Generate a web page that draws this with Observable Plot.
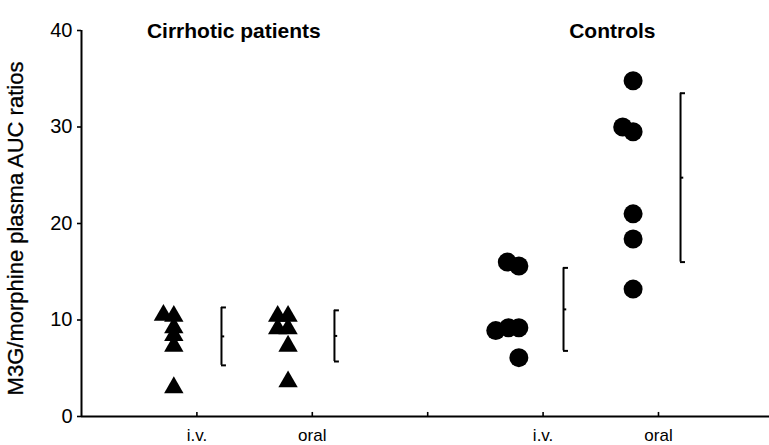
<!DOCTYPE html>
<html>
<head>
<meta charset="utf-8">
<script src="https://cdn.jsdelivr.net/npm/d3@7"></script>
<script src="https://cdn.jsdelivr.net/npm/@observablehq/plot@0.6"></script>
<style>
  body { margin: 0; background: #fff; }
  svg { display: block; }
</style>
</head>
<body>
<div id="chart"></div>
<script>
// ---- data ----
const groupNames = ["Cirrhotic i.v.", "Cirrhotic oral", "Controls i.v.", "Controls oral"];
const groupTickX = [1, 2, 4, 5];
const tickLabels = ["i.v.", "oral", "i.v.", "oral"];
const panelTitles = ["Cirrhotic patients", "Controls"];

const cirrIV   = [10.5, 10.4, 9.2, 8.4, 7.3, 3.0];
const cirrOral = [10.4, 10.4, 9.1, 9.1, 7.3, 3.6];
const ctrlIV   = [16.0, 15.6, 8.9, 9.2, 9.2, 6.1];
const ctrlOral = [34.8, 30.0, 29.5, 21.0, 18.4, 13.2];

const groupMean = [8.3, 8.35, 11.1, 24.75];
const groupSD   = [3.0, 2.65, 4.3, 8.75];

// ---- layout (horizontal scatter offsets, in x units) ----
const cirrIVJitter   = [-0.29, -0.20, -0.20, -0.20, -0.20, -0.20];
const cirrOralJitter = [-0.30, -0.21, -0.30, -0.21, -0.21, -0.21];
const ctrlIVJitter   = [-0.31, -0.21, -0.41, -0.30, -0.21, -0.21];
const ctrlOralJitter = [-0.22, -0.31, -0.22, -0.22, -0.22, -0.22];
const bracketOffset  = [0.213, 0.192, 0.177, 0.191];
const titleX = [1.32, 4.60];

const font = "'Liberation Sans', Arial, Helvetica, sans-serif";

function pts(vals, jit, gx) {
  return vals.map((v, i) => ({x: gx + jit[i], y: v}));
}
const triangles = [
  ...pts(cirrIV, cirrIVJitter, groupTickX[0]),
  ...pts(cirrOral, cirrOralJitter, groupTickX[1])
];
const circles = [
  ...pts(ctrlIV, ctrlIVJitter, groupTickX[2]),
  ...pts(ctrlOral, ctrlOralJitter, groupTickX[3])
];
const brackets = groupNames.map((g, i) => ({
  x: groupTickX[i] + bracketOffset[i],
  lo: groupMean[i] - groupSD[i],
  hi: groupMean[i] + groupSD[i],
  mean: groupMean[i]
}));
const serif = 0.043, midSerif = 0.028;
const serifs = brackets.flatMap(b => [
  {x1: b.x, x2: b.x + serif, y: b.lo},
  {x1: b.x, x2: b.x + serif, y: b.hi},
  {x1: b.x, x2: b.x + midSerif, y: b.mean}
]);

const chart = Plot.plot({
  width: 769,
  height: 445,
  marginLeft: 81,
  marginRight: 0,
  marginTop: 30,
  marginBottom: 29,
  style: {fontFamily: font, background: "#fff", color: "#000"},
  x: {domain: [0, 5.962]},
  y: {domain: [0, 40]},
  marks: [
    // axes
    Plot.axisY({ticks: [0, 10, 20, 30, 40], tickSize: 4, tickPadding: 5, fontSize: 20, label: null, strokeWidth: 1.6}),
    Plot.axisX({ticks: groupTickX, tickSize: 0, tickPadding: 12, fontSize: 17, label: null,
      tickFormat: d => tickLabels[groupTickX.indexOf(d)]}),
    Plot.ruleX([1, 2, 3, 4, 5], {y1: 0, y2: 0.42, stroke: "#000", strokeWidth: 1.6}),
    Plot.ruleX([0], {stroke: "#000", strokeWidth: 2}),
    Plot.ruleY([0], {stroke: "#000", strokeWidth: 2}),
    // y label
    Plot.text(["M3G/morphine plasma AUC ratios"], {frameAnchor: "left", textAnchor: "middle", rotate: -90, dx: -66, dy: 5,
      fontSize: 22, fill: "#000", stroke: "#000", strokeWidth: 0.3}),
    // panel titles
    Plot.text([panelTitles[0]], {x: [titleX[0]], frameAnchor: "top", dy: -7, fontSize: 21, fontWeight: "bold", fill: "#000"}),
    Plot.text([panelTitles[1]], {x: [titleX[1]], frameAnchor: "top", dy: -7, fontSize: 21, fontWeight: "bold", fill: "#000"}),
    // mean ± SD brackets
    Plot.ruleX(brackets, {x: "x", y1: "lo", y2: "hi", stroke: "#000", strokeWidth: 2}),
    Plot.ruleY(serifs, {x1: "x1", x2: "x2", y: "y", stroke: "#000", strokeWidth: 2}),
    // points
    Plot.dot(triangles, {x: "x", y: "y", symbol: "triangle", r: 7.2, fill: "#000", stroke: "none"}),
    Plot.dot(circles, {x: "x", y: "y", symbol: "circle", r: 9.5, fill: "#000", stroke: "none"})
  ]
});
document.getElementById("chart").appendChild(chart);
</script>
</body>
</html>
